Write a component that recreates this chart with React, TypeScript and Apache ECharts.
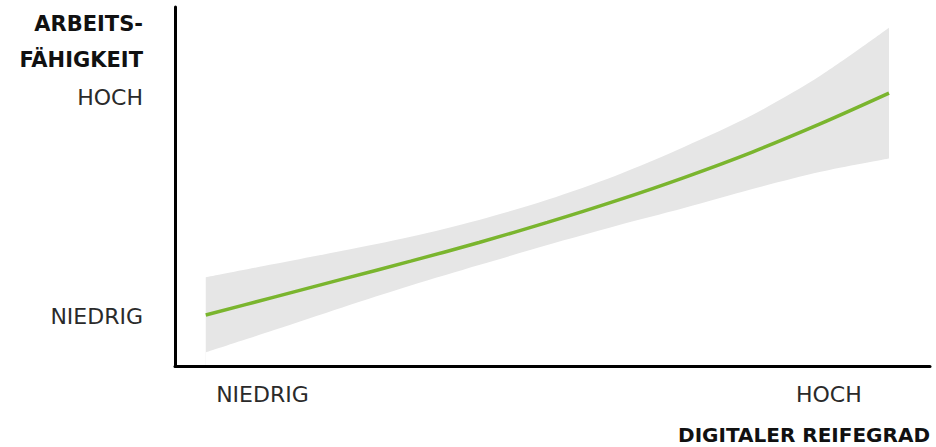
import React, { useEffect, useRef } from "react";
import * as echarts from "echarts";

// x: digital maturity (arbitrary units), y: work ability (arbitrary units)
const xValues = [0, 1, 2, 3, 4, 5, 6, 7, 8, 9, 10];
const fitValues = [1.42, 1.92, 2.42, 2.92, 3.44, 4.0, 4.6, 5.25, 5.96, 6.75, 7.6];
const upperValues = [2.47, 2.84, 3.21, 3.6, 4.07, 4.63, 5.3, 6.1, 6.99, 8.09, 9.42];
const lowerValues = [0.38, 1.0, 1.63, 2.24, 2.81, 3.37, 3.9, 4.4, 4.93, 5.41, 5.78];

const xTickValues = [0.83, 9.12];
const xTickLabels = ["NIEDRIG", "HOCH"];
const yTickValues = [1.39, 7.49];
const yTickLabels = ["NIEDRIG", "HOCH"];

const yAxisTitle = "ARBEITS-\nFÄHIGKEIT";
const xAxisTitle = "DIGITALER REIFEGRAD";

const FONT = "DejaVu Sans";

export default function App() {
  const ref = useRef<HTMLDivElement>(null);

  useEffect(() => {
    if (!ref.current) return;
    const chart = echarts.init(ref.current, null, { renderer: "svg" });

    const upperData = xValues.map((x, i) => [x, upperValues[i]]);
    const lowerData = xValues.map((x, i) => [x, lowerValues[i]]);
    const fitData = xValues.map((x, i) => [x, fitValues[i]]);

    const pick = (vals: number[], labels: string[]) => (v: number) => {
      const i = vals.findIndex((t) => Math.abs(t - v) < 1e-6);
      return i >= 0 ? labels[i] : "";
    };

    chart.setOption({
      animation: false,
      backgroundColor: "#ffffff",
      grid: { left: 175, right: 6, top: 7, bottom: 81 },
      xAxis: {
        type: "value",
        min: -0.45,
        max: 10.6,
        z: 10,
        axisLine: { show: true, onZero: false, lineStyle: { color: "#000", width: 3 } },
        axisTick: { show: false },
        splitLine: { show: false },
        axisLabel: {
          customValues: xTickValues,
          margin: 17,
          fontFamily: FONT,
          fontSize: 22,
          color: "#2a2a2a",
          formatter: pick(xTickValues, xTickLabels),
        },
      },
      yAxis: {
        type: "value",
        min: 0,
        max: 10,
        z: 10,
        axisLine: { show: true, onZero: false, lineStyle: { color: "#000", width: 3 } },
        axisTick: { show: false },
        splitLine: { show: false },
        axisLabel: {
          customValues: yTickValues,
          margin: 32,
          fontFamily: FONT,
          fontSize: 22,
          color: "#2a2a2a",
          formatter: pick(yTickValues, yTickLabels),
        },
      },
      graphic: [
        {
          type: "text",
          x: 143,
          y: 6,
          style: {
            text: yAxisTitle,
            align: "right",
            verticalAlign: "top",
            fontFamily: FONT,
            fontWeight: "bold",
            fontSize: 21,
            lineHeight: 36,
            fill: "#111",
          },
        },
        {
          type: "text",
          x: 930,
          y: 435,
          style: {
            text: xAxisTitle,
            align: "right",
            verticalAlign: "middle",
            fontFamily: FONT,
            fontWeight: "bold",
            fontSize: 20,
            lineHeight: 20,
            fill: "#111",
          },
        },
      ],
      series: [
        {
          type: "line",
          data: upperData,
          symbol: "none",
          smooth: 0.3,
          lineStyle: { opacity: 0 },
          areaStyle: { color: "#e6e6e6", opacity: 1, origin: "start" },
          silent: true,
          z: 1,
        },
        {
          type: "line",
          data: lowerData,
          symbol: "none",
          smooth: 0.3,
          lineStyle: { opacity: 0 },
          areaStyle: { color: "#ffffff", opacity: 1, origin: "start" },
          silent: true,
          z: 2,
        },
        {
          type: "line",
          data: fitData,
          symbol: "none",
          smooth: 0.3,
          lineStyle: { color: "#7ab52e", width: 3.5 },
          z: 5,
        },
      ],
    });

    return () => chart.dispose();
  }, []);

  return (
    <div
      ref={ref}
      style={{ position: "fixed", left: 0, top: 0, width: 936, height: 447 }}
    />
  );
}
